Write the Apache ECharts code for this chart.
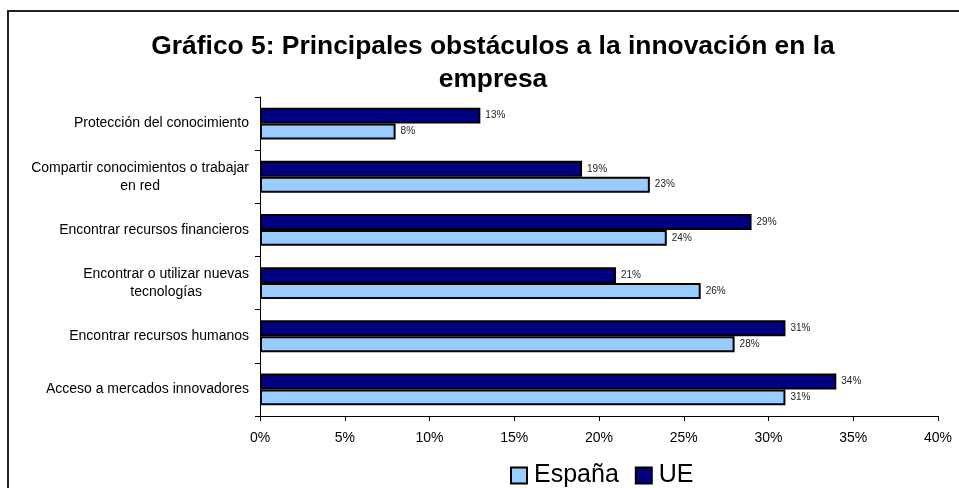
<!DOCTYPE html>
<html>
<head>
<meta charset="utf-8">
<script src="https://cdn.jsdelivr.net/npm/echarts@6/dist/echarts.min.js"></script>
<style>
  html, body { margin: 0; padding: 0; background: #fff; }
  #main { width: 959px; height: 488px; }
</style>
</head>
<body>
<div id="main"></div>
<script>
// categories listed bottom -> top (category axis grows upward)
var categories = [
  'Acceso a mercados innovadores',
  'Encontrar recursos humanos',
  'Encontrar o utilizar nuevas\ntecnologías',
  'Encontrar recursos financieros',
  'Compartir conocimientos o trabajar\nen red',
  'Protección del conocimiento'
];
var espana = [31, 28, 26, 24, 23, 8];
var ue = [34, 31, 21, 29, 19, 13];
var xTicks = [0, 5, 10, 15, 20, 25, 30, 35, 40];

var FONT = '"Liberation Sans", Arial, sans-serif';

var chart = echarts.init(document.getElementById('main'));

var valueLabel = {
  show: true,
  position: 'right',
  distance: 5,
  formatter: '{c}%',
  fontSize: 10,
  fontFamily: FONT,
  color: '#222'
};

var option = {
  backgroundColor: '#fff',
  animation: false,
  title: {
    text: 'Gráfico 5: Principales obstáculos a la innovación en la\nempresa',
    left: 488,
    top: 25,
    textAlign: 'center',
    textStyle: {
      fontFamily: FONT,
      fontSize: 26.4,
      fontWeight: 'bold',
      color: '#000',
      lineHeight: 33
    }
  },
  legend: {
    data: ['España', 'UE'],
    icon: 'rect',
    left: 505,
    top: 458,
    itemWidth: 16,
    itemHeight: 16,
    itemGap: 16,
    itemStyle: { borderColor: '#000', borderWidth: 2 },
    textStyle: { fontFamily: FONT, fontSize: 25, color: '#000', padding: [0, 0, 0, 2] }
  },
  grid: {
    left: 260,
    right: 21,
    top: 97,
    bottom: 72,
    outerBoundsMode: 'none'
  },
  xAxis: {
    type: 'value',
    min: xTicks[0],
    max: xTicks[xTicks.length - 1],
    interval: 5,
    splitLine: { show: false },
    axisLine: { show: true, lineStyle: { color: '#000', width: 1 } },
    axisTick: { show: true, length: 5, lineStyle: { color: '#000' } },
    axisLabel: {
      formatter: '{value}%',
      fontFamily: FONT,
      fontSize: 14,
      color: '#000',
      margin: 15
    }
  },
  yAxis: {
    type: 'category',
    data: categories,
    axisLine: { show: true, lineStyle: { color: '#000', width: 1 } },
    axisTick: { show: true, length: 5, lineStyle: { color: '#000' } },
    axisLabel: {
      margin: 11,
      fontFamily: FONT,
      fontSize: 14,
      color: '#000',
      lineHeight: 18,
      formatter: function (v) {
        return v.split('\n').map(function (l) { return '{c|' + l + '}'; }).join('\n');
      },
      rich: {
        c: { align: 'center', fontFamily: FONT, fontSize: 14, color: '#000', lineHeight: 18 }
      }
    }
  },
  series: [
    {
      name: 'UE',
      type: 'bar',
      data: ue,
      barGap: '0%',
      barCategoryGap: '40%',
      itemStyle: { color: '#000080', borderColor: '#000', borderWidth: 2 },
      label: valueLabel
    },
    {
      name: 'España',
      type: 'bar',
      data: espana,
      barGap: '0%',
      barCategoryGap: '40%',
      itemStyle: { color: '#99CCFF', borderColor: '#000', borderWidth: 2 },
      label: valueLabel
    }
  ],
  graphic: [{
    type: 'rect',
    silent: true,
    shape: { x: 8, y: 11, width: 1000, height: 520 },
    style: { fill: null, stroke: '#222', lineWidth: 2 }
  }]
};

chart.setOption(option);
</script>
</body>
</html>
